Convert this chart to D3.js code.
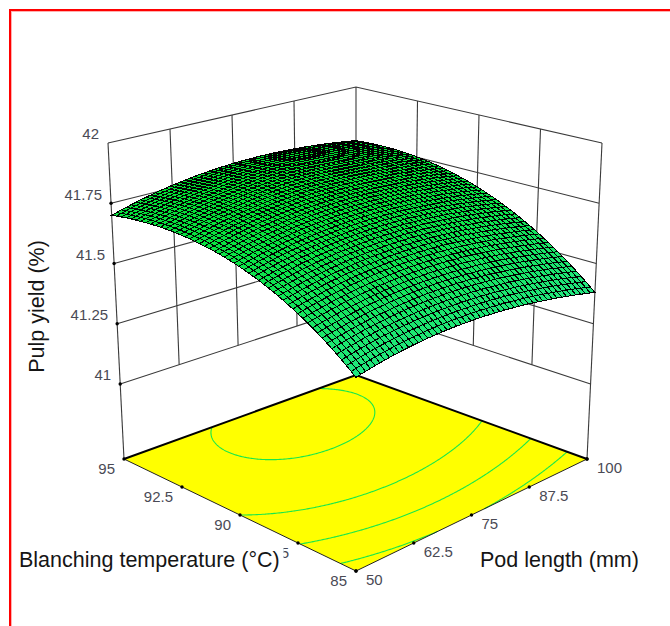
<!DOCTYPE html>
<html>
<head>
<meta charset="utf-8">
<script src="https://cdn.jsdelivr.net/npm/d3@7"></script>
<style>
html,body{margin:0;padding:0;background:#fff;}
svg{display:block;}
text{font-family:"Liberation Sans",Arial,sans-serif;}
</style>
</head>
<body>
<svg id="chart" width="670" height="626"></svg>
<script>
// ---------- data ----------
const podLengthTicks = [50, 62.5, 75, 87.5, 100];
const temperatureTicks = [85, 87.5, 90, 92.5, 95];
const yieldTicks = [41, 41.25, 41.5, 41.75, 42];
const yieldTickLabels = ["41", "41.25", "41.5", "41.75", "42"];
// pulp yield read at each pod length (columns) for each temperature (rows)
const yieldAt85   = [41.400, 41.442, 41.452, 41.431, 41.380];
const yieldAt875  = [41.565, 41.611, 41.627, 41.611, 41.564];
const yieldAt90   = [41.670, 41.721, 41.741, 41.730, 41.688];
const yieldAt925  = [41.715, 41.771, 41.796, 41.789, 41.752];
const yieldAt95   = [41.700, 41.761, 41.790, 41.788, 41.756];
const yieldTable = [yieldAt85, yieldAt875, yieldAt90, yieldAt925, yieldAt95];
const contourLevels = [41.45, 41.56, 41.67, 41.78];

// ---------- layout ----------
const W = 670, H = 626;
const svg = d3.select("#chart");
const floorCorners = {a:[356,571], b:[587,459], c:[124,459], d:[356,375]};
const topCorners   = {a:[356,214], b:[602,143], c:[108,143], d:[356,87]};
const MESH = 50;

const uScale = d3.scaleLinear().domain([50,100]).range([0,1]);
const vScale = d3.scaleLinear().domain([85,95]).range([0,1]);
const tScale = d3.scaleLinear().domain([40.689,42]).range([0,1]);

const bilerp = (q,u,v) => [0,1].map(i =>
  q.a[i]*(1-u)*(1-v) + q.b[i]*u*(1-v) + q.c[i]*(1-u)*v + q.d[i]*u*v);
function project(pod,temp,z){
  const u=uScale(pod), v=vScale(temp);
  const f=bilerp(floorCorners,u,v), g=bilerp(topCorners,u,v);
  const t = z==null ? 0 : tScale(z);
  return [f[0]+(g[0]-f[0])*t, f[1]+(g[1]-f[1])*t];
}

// smooth reading of the table between the tabulated values
function lagrange(nodes,vals,x){
  let s=0;
  nodes.forEach((n,i)=>{ let w=vals[i];
    nodes.forEach((m,j)=>{ if(j!==i) w*=(x-m)/(n-m); });
    s+=w; });
  return s;
}
function yieldAt(pod,temp){
  const col = yieldTable.map(row => lagrange(podLengthTicks,row,pod));
  return lagrange(temperatureTicks,col,temp);
}
const podS = d3.scaleLinear().domain([0,1]).range([50,100]);
const tempS = d3.scaleLinear().domain([0,1]).range([85,95]);

// ---------- frame ----------
svg.append("rect").attr("x",9).attr("y",9).attr("width",2).attr("height",H-9).attr("fill","#ff0000");
svg.append("rect").attr("x",9).attr("y",9).attr("width",W-9).attr("height",2).attr("fill","#ff0000");
svg.append("rect").attr("x",11).attr("y",11).attr("width",1).attr("height",H-11).attr("fill","#ffb0b0");
svg.append("rect").attr("x",11).attr("y",11).attr("width",W-11).attr("height",1).attr("fill","#ffb0b0");

const line = d3.line();
const wallColor = "#3a3a3a";
const g = svg.append("g");

// ---------- walls ----------
const walls = g.append("g").attr("fill","none").attr("stroke",wallColor).attr("stroke-width",1.1);
yieldTicks.forEach(z=>{
  walls.append("path").attr("d",line([project(50,95,z),project(100,95,z),project(100,85,z)]));
});
podLengthTicks.slice(1,4).forEach(p=>{
  walls.append("path").attr("d",line([project(p,95,41),project(p,95,42)]));
});
temperatureTicks.slice(1,4).forEach(t=>{
  walls.append("path").attr("d",line([project(100,t,41),project(100,t,42)]));
});
[[50,95],[100,95],[100,85]].forEach(([p,t])=>{
  walls.append("path").attr("d",line([project(p,t,null),project(p,t,42)]));
});

// ---------- floor ----------
const floorPts=[project(50,85),project(100,85),project(100,95),project(50,95)];
g.append("path").attr("d",line(floorPts)+"Z").attr("fill","#ffff00");

// contours on the floor
const N=200;
const gridVals=new Array(N*N);
for(let j=0;j<N;j++)for(let i=0;i<N;i++){
  gridVals[j*N+i]=yieldAt(podS(i/(N-1)),tempS(j/(N-1)));
}
const cont=d3.contours().size([N,N]).thresholds(contourLevels).smooth(true)(gridVals);
const toPod=gx=>podS(Math.max(0,Math.min(1,(gx-.5)/(N-1))));
const toTemp=gy=>tempS(Math.max(0,Math.min(1,(gy-.5)/(N-1))));
const onEdge=p=>p[0]<=.5||p[0]>=N-.5||p[1]<=.5||p[1]>=N-.5;
const contG=g.append("g").attr("fill","none").attr("stroke","#19e84a").attr("stroke-width",1.1);
cont.forEach(c=>{
  c.coordinates.forEach(poly=>poly.forEach(ring=>{
    let seg=[];
    const flush=()=>{ if(seg.length>1) contG.append("path").attr("d",line(seg.map(p=>project(toPod(p[0]),toTemp(p[1]))))); seg=[]; };
    for(let i=0;i<ring.length;i++){
      if(onEdge(ring[i])){ if(seg.length){seg.push(ring[i]);flush();}
        const nx=ring[i+1]; if(nx&&!onEdge(nx)) seg=[ring[i]];
      } else seg.push(ring[i]);
    }
    flush();
  }));
});

// floor edges
g.append("path").attr("d",line([project(50,95),project(100,95),project(100,85)]))
  .attr("fill","none").attr("stroke","#000").attr("stroke-width",2);
g.append("path").attr("d",line([project(50,95),project(50,85),project(100,85)]))
  .attr("fill","none").attr("stroke","#222").attr("stroke-width",1);

// ---------- surface ----------
const cellColor=d3.scaleLinear().domain([41.38,41.8]).range(["#24e884","#00e22c"]);
const cells=[];
for(let j=0;j<MESH;j++)for(let i=0;i<MESH;i++){
  const p0=podS(i/MESH),p1=podS((i+1)/MESH),t0=tempS(j/MESH),t1=tempS((j+1)/MESH);
  cells.push({i,j,
    z:yieldAt((p0+p1)/2,(t0+t1)/2),
    pts:[[p0,t0],[p1,t0],[p1,t1],[p0,t1]].map(([p,t])=>project(p,t,yieldAt(p,t)))});
}
cells.sort((a,b)=>(b.i+b.j)-(a.i+a.j));
g.append("g").attr("stroke","#000").attr("stroke-width",1).attr("shape-rendering","crispEdges")
  .selectAll("path").data(cells).join("path")
  .attr("d",d=>line(d.pts)+"Z").attr("fill",d=>cellColor(d.z));

// ---------- ticks ----------
const dots=g.append("g").attr("fill","#000");
const dot=p=>dots.append("circle").attr("cx",p[0]).attr("cy",p[1]).attr("r",1.7);
yieldTicks.slice(0,4).forEach(z=>dot(project(50,95,z)));
podLengthTicks.forEach(p=>dot(project(p,85)));
temperatureTicks.forEach(t=>dot(project(50,t)));
dot(project(100,85));

const tickColor="#4a4a55", tickFont=15;
const labels=g.append("g").attr("font-size",tickFont).attr("fill",tickColor);
yieldTicks.forEach((z,i)=>{
  const p=project(50,95,z);
  labels.append("text").attr("x",p[0]-9).attr("y",p[1]-9).attr("dy","0.35em")
    .attr("text-anchor","end").text(yieldTickLabels[i]);
});
podLengthTicks.forEach(v=>{
  const p=project(v,85);
  labels.append("text").attr("x",p[0]+10).attr("y",p[1]+9).attr("dy","0.35em").text(v);
});
temperatureTicks.forEach(v=>{
  const p=project(50,v);
  labels.append("text").attr("x",p[0]-9).attr("y",p[1]+10).attr("dy","0.35em")
    .attr("text-anchor","end").text(v);
});

// ---------- titles ----------
g.append("rect").attr("x",16).attr("y",546).attr("width",267.5).attr("height",28).attr("fill","#fff");
const titleFont=21.5, titleColor="#151515";
g.append("text").attr("x",19).attr("y",567).attr("font-size",titleFont).attr("fill",titleColor)
  .text("Blanching temperature (°C)");
g.append("text").attr("x",480).attr("y",567).attr("font-size",titleFont).attr("fill",titleColor)
  .text("Pod length (mm)");
g.append("text").attr("transform","translate(44,306.5) rotate(-90)").attr("text-anchor","middle")
  .attr("font-size",titleFont).attr("fill",titleColor).text("Pulp yield (%)");
</script>
</body>
</html>
